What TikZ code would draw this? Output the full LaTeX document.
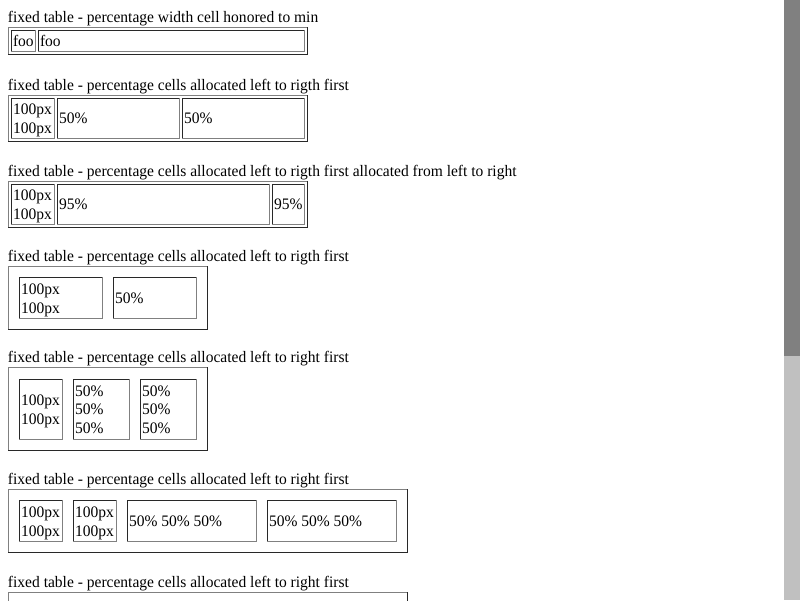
\documentclass[tikz,border=0pt]{standalone}
\usepackage{fontspec}
\setmainfont{Liberation Serif}[FakeStretch=0.97]
\definecolor{bdlite}{RGB}{128,128,128}
\definecolor{bddark}{RGB}{40,40,40}
\definecolor{sbdark}{RGB}{128,128,128}
\definecolor{sblite}{RGB}{192,192,192}
\tikzset{
  boxnode/.style={inner sep=0pt, outer sep=0pt, anchor=north west, draw=none},
  txt/.style={inner sep=0pt, outer sep=0pt, anchor=base west, font=\fontsize{16pt}{18.4pt}\selectfont, text=black},
  lite/.style={draw=bdlite, line width=1pt, line cap=rect},
  dark/.style={draw=bddark, line width=1pt, line cap=rect},
}
% name, x1, y1, x2, y2, top-left style, bottom-right style
\newcommand\pxbox[7]{%
  \node[boxnode, minimum width={#4pt-#2pt}, minimum height={#5pt-#3pt}] (#1) at (#2,#3) {};
  \draw[#6] ([shift={(.5,-.5)}]#1.south west) -- ([shift={(.5,.5)}]#1.north west) -- ([shift={(-.5,.5)}]#1.north east);
  \draw[#7] ([shift={(-.5,.5)}]#1.north east) -- ([shift={(-.5,-.5)}]#1.south east) -- ([shift={(.5,-.5)}]#1.south west);
}
\newcommand\outerbox[5]{\pxbox{#1}{#2}{#3}{#4}{#5}{lite}{dark}}
\newcommand\cellbox[5]{\pxbox{#1}{#2}{#3}{#4}{#5}{dark}{lite}}
\begin{document}
\begin{tikzpicture}[x=1pt,y=-1pt]
\useasboundingbox (0,0) rectangle (800,600);
\fill[white] (0,0) rectangle (800,600);
% scrollbar
\fill[sbdark] (784,0) rectangle (800,356);
\fill[sblite] (784,356) rectangle (800,600);

% ---- table 1
\node[txt] (h1) at (8,22) {fixed table - percentage width cell honored to min};
\outerbox{t1}{8}{27}{308}{55}
\cellbox{t1a}{11}{30}{36}{52}
\cellbox{t1b}{38}{30}{305}{52}
\node[txt] (t1ax) at (13,46.5) {foo};
\node[txt] (t1bx) at (40,46.5) {foo};

% ---- table 2
\node[txt] (h2) at (8,90.5) {fixed table - percentage cells allocated left to rigth first};
\outerbox{t2}{8}{95}{308}{142}
\cellbox{t2a}{11}{98}{55}{139}
\cellbox{t2b}{57}{98}{180}{139}
\cellbox{t2c}{182}{98}{305}{139}
\node[txt] (t2ax1) at (13,114.6) {100px};
\node[txt] (t2ax2) at (13,133) {100px};
\node[txt] (t2bx) at (59,123.5) {50\%};
\node[txt] (t2cx) at (184,123.5) {50\%};

% ---- table 3
\node[txt] (h3) at (8,176.5) {fixed table - percentage cells allocated left to rigth first allocated from left to right};
\outerbox{t3}{8}{181}{308}{228}
\cellbox{t3a}{11}{184}{55}{225}
\cellbox{t3b}{57}{184}{270}{225}
\cellbox{t3c}{272}{184}{305}{225}
\node[txt] (t3ax1) at (13,200.6) {100px};
\node[txt] (t3ax2) at (13,219) {100px};
\node[txt] (t3bx) at (59,209.5) {95\%};
\node[txt] (t3cx) at (274,209.5) {95\%};

% ---- table 4
\node[txt] (h4) at (8,261.5) {fixed table - percentage cells allocated left to rigth first};
\outerbox{t4}{8}{266}{208}{330}
\cellbox{t4a}{19}{277}{103}{319}
\cellbox{t4b}{113}{277}{197}{319}
\node[txt] (t4ax1) at (21,294.6) {100px};
\node[txt] (t4ax2) at (21,313) {100px};
\node[txt] (t4bx) at (115,303.5) {50\%};

% ---- table 5
\node[txt] (h5) at (8,362.5) {fixed table - percentage cells allocated left to right first};
\outerbox{t5}{8}{367}{208}{451}
\cellbox{t5a}{19}{379}{63}{440}
\cellbox{t5b}{73}{379}{130}{440}
\cellbox{t5c}{140}{379}{197}{440}
\node[txt] (t5ax1) at (21,405.6) {100px};
\node[txt] (t5ax2) at (21,424) {100px};
\node[txt] (t5bx1) at (75,396.5) {50\%};
\node[txt] (t5bx2) at (75,414.9) {50\%};
\node[txt] (t5bx3) at (75,433.3) {50\%};
\node[txt] (t5cx1) at (142,396.5) {50\%};
\node[txt] (t5cx2) at (142,414.9) {50\%};
\node[txt] (t5cx3) at (142,433.3) {50\%};

% ---- table 6
\node[txt] (h6) at (8,484.5) {fixed table - percentage cells allocated left to right first};
\outerbox{t6}{8}{489}{408}{553}
\cellbox{t6a}{19}{500}{63}{542}
\cellbox{t6b}{73}{500}{117}{542}
\cellbox{t6c}{127}{500}{257}{542}
\cellbox{t6d}{267}{500}{397}{542}
\node[txt] (t6ax1) at (21,517.6) {100px};
\node[txt] (t6ax2) at (21,536) {100px};
\node[txt] (t6bx1) at (75,517.6) {100px};
\node[txt] (t6bx2) at (75,536) {100px};
\node[txt] (t6cx) at (129,526.3) {50\% 50\% 50\%};
\node[txt] (t6dx) at (269,526.3) {50\% 50\% 50\%};

% ---- table 7 (cut off)
\node[txt] (h7) at (8,587) {fixed table - percentage cells allocated left to right first};
\outerbox{t7}{8}{592}{408}{640}
\end{tikzpicture}
\end{document}
